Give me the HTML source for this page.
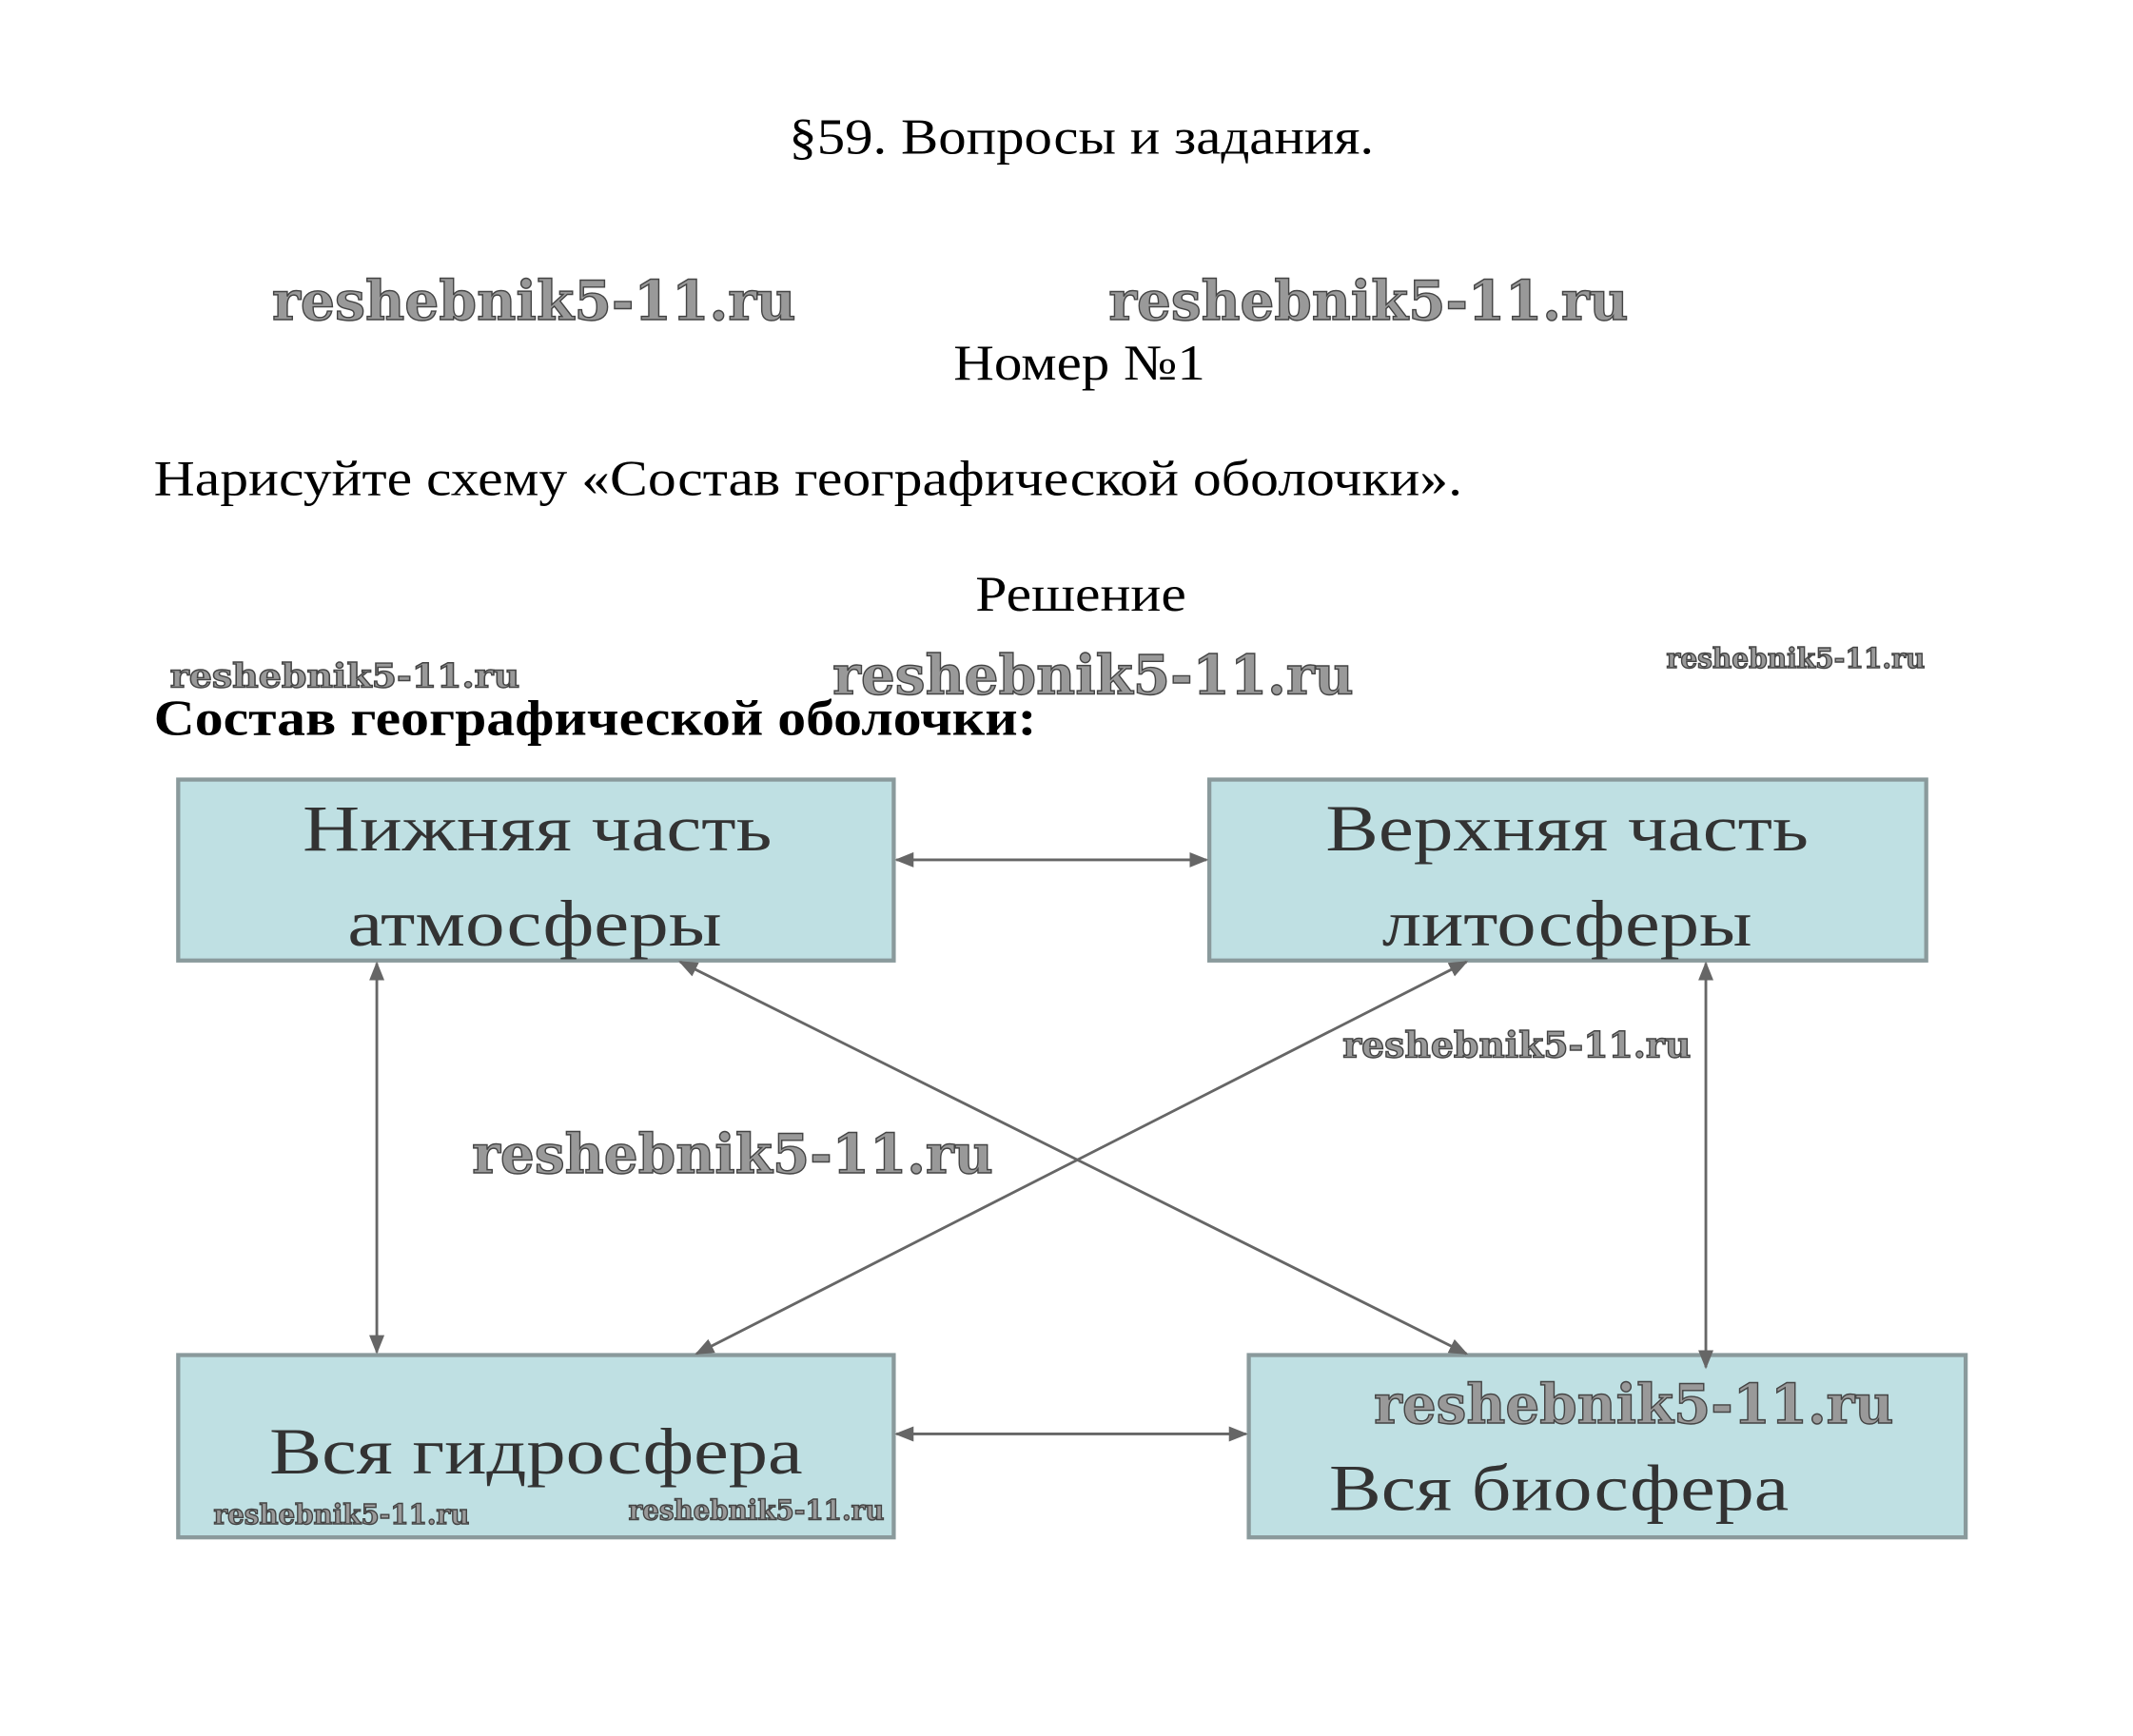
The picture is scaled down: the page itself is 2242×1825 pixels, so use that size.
<!DOCTYPE html>
<html><head><meta charset="utf-8"><style>html,body{margin:0;padding:0;background:#fff}svg{display:block}</style></head>
<body>
<svg width="2242" height="1825" viewBox="0 0 1568 1276" preserveAspectRatio="none" xmlns="http://www.w3.org/2000/svg">
<defs>
<marker id="a" viewBox="0 0 10 10" refX="9" refY="5" markerWidth="7" markerHeight="7" orient="auto-start-reverse"><path d="M0,1 L10,5 L0,9 z" fill="#666"/></marker>
</defs>
<rect width="1568" height="1276" fill="#fff"/>
<g font-family="Liberation Serif, serif" fill="#000">
<text x="580" y="113" font-size="37" textLength="430" lengthAdjust="spacingAndGlyphs">§59. Вопросы и задания.</text>
<text x="701" y="279" font-size="37" textLength="185" lengthAdjust="spacingAndGlyphs">Номер №1</text>
<text x="113" y="364" font-size="37" textLength="962" lengthAdjust="spacingAndGlyphs">Нарисуйте схему «Состав географической оболочки».</text>
<text x="717" y="449" font-size="37" textLength="155" lengthAdjust="spacingAndGlyphs">Решение</text>
<text x="113" y="540" font-size="37" font-weight="bold" textLength="649" lengthAdjust="spacingAndGlyphs">Состав географической оболочки:</text>
</g>
<g fill="#bfe0e3" stroke="#8a9a9c" stroke-width="3">
<rect x="131" y="573" width="526" height="133"/>
<rect x="889" y="573" width="527" height="133"/>
<rect x="131" y="996" width="526" height="134"/>
<rect x="918" y="996" width="527" height="134"/>
</g>
<g stroke="#666" stroke-width="2" fill="none" marker-start="url(#a)" marker-end="url(#a)">
<line x1="659" y1="632" x2="887" y2="632"/>
<line x1="659" y1="1054" x2="916" y2="1054"/>
<line x1="277" y1="708" x2="277" y2="994"/>
<line x1="1254" y1="708" x2="1254" y2="1005"/>
<line x1="500" y1="707" x2="1078" y2="995"/>
<line x1="1078" y1="707" x2="512" y2="995"/>
</g>
<g font-family="Liberation Serif, serif" fill="#333" font-size="48">
<text x="395" y="625" text-anchor="middle" textLength="345" lengthAdjust="spacingAndGlyphs">Нижняя часть</text>
<text x="393" y="695" text-anchor="middle" textLength="275" lengthAdjust="spacingAndGlyphs">атмосферы</text>
<text x="1152" y="625" text-anchor="middle" textLength="355" lengthAdjust="spacingAndGlyphs">Верхняя часть</text>
<text x="1152" y="695" text-anchor="middle" textLength="272" lengthAdjust="spacingAndGlyphs">литосферы</text>
<text x="198" y="1083" textLength="392" lengthAdjust="spacingAndGlyphs">Вся гидросфера</text>
<text x="977" y="1110" textLength="338" lengthAdjust="spacingAndGlyphs">Вся биосфера</text>
</g>
<g font-family="DejaVu Serif, Liberation Serif, serif" font-weight="bold" fill="#999" stroke="#444" stroke-width="1" lengthAdjust="spacingAndGlyphs">
<text x="200" y="235" font-size="40" textLength="385" lengthAdjust="spacingAndGlyphs">reshebnik5-11.ru</text>
<text x="815" y="235" font-size="40" textLength="382" lengthAdjust="spacingAndGlyphs">reshebnik5-11.ru</text>
<text x="612" y="510" font-size="40" textLength="383" lengthAdjust="spacingAndGlyphs">reshebnik5-11.ru</text>
<text x="125" y="505" font-size="24" textLength="257" lengthAdjust="spacingAndGlyphs">reshebnik5-11.ru</text>
<text x="1225" y="491" font-size="20" textLength="190" lengthAdjust="spacingAndGlyphs">reshebnik5-11.ru</text>
<text x="987" y="777" font-size="26" textLength="256" lengthAdjust="spacingAndGlyphs">reshebnik5-11.ru</text>
<text x="347" y="862" font-size="40" textLength="383" lengthAdjust="spacingAndGlyphs">reshebnik5-11.ru</text>
<text x="1010" y="1046" font-size="40" textLength="382" lengthAdjust="spacingAndGlyphs">reshebnik5-11.ru</text>
<text x="157" y="1120" font-size="20" textLength="188" lengthAdjust="spacingAndGlyphs">reshebnik5-11.ru</text>
<text x="462" y="1117" font-size="20" textLength="188" lengthAdjust="spacingAndGlyphs">reshebnik5-11.ru</text>
</g>
</svg>
</body></html>
